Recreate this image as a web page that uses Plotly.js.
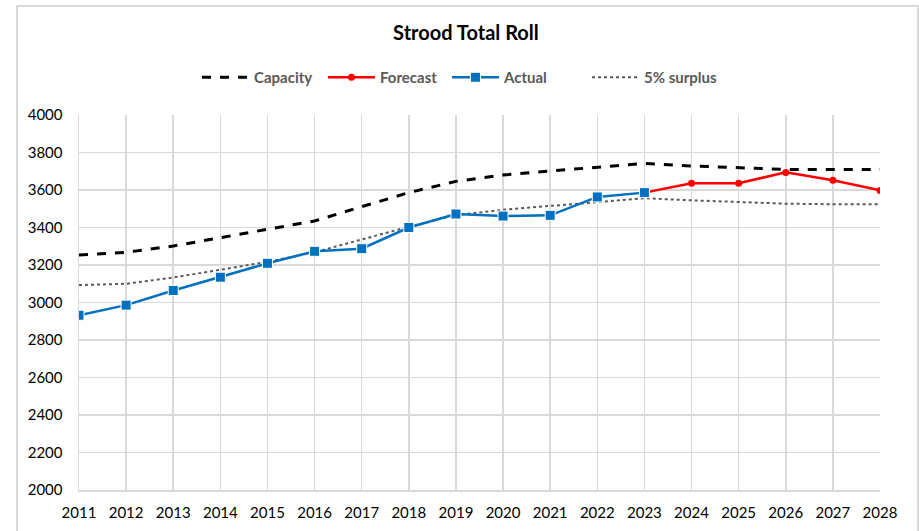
<!DOCTYPE html>
<html>
<head>
<meta charset="utf-8">
<script src="https://cdn.plot.ly/plotly-3.0.1.min.js"></script>
<style>
html,body{margin:0;padding:0;background:#fff;}
#wrap{position:relative;width:919px;height:531px;overflow:hidden;}
#chart{position:absolute;left:0;top:0;width:919px;height:531px;}
#frame{position:absolute;left:16px;top:5px;width:899px;height:560px;border:2px solid #d9d9d9;pointer-events:none;}
</style>
</head>
<body>
<div id="wrap"><div id="chart"></div><div id="frame"></div></div>
<script>
const years = [2011,2012,2013,2014,2015,2016,2017,2018,2019,2020,2021,2022,2023,2024,2025,2026,2027,2028];
const capacity = [3253,3268,3301,3346,3390,3435,3511,3586,3646,3680,3701,3721,3742,3728,3719,3710,3710,3710];
const surplus = [3093,3100,3133,3176,3217,3268,3336,3404,3466,3494,3515,3536,3556,3545,3536,3527,3524,3524];
const actualYears = [2011,2012,2013,2014,2015,2016,2017,2018,2019,2020,2021,2022,2023];
const actual = [2932,2986,3064,3135,3209,3273,3287,3400,3472,3461,3465,3563,3586];
const forecastYears = [2023,2024,2025,2026,2027,2028];
const forecast = [3586,3636,3636,3694,3652,3598];

const FONT = 'Lato, "Open Sans", sans-serif';

const traces = [
  {x: years, y: surplus, name: '5% surplus', mode: 'lines', legend: 'legend4',
   line: {color: '#595959', width: 2, dash: 'dot'}},
  {x: years, y: capacity, name: 'Capacity', mode: 'lines', legend: 'legend',
   line: {color: '#000000', width: 3, dash: 'dash'}},
  {x: forecastYears, y: forecast, name: 'Forecast', mode: 'lines+markers', legend: 'legend2',
   line: {color: '#ff0000', width: 2.5}, marker: {symbol: 'circle', size: 7, color: '#ff0000'}},
  {x: actualYears, y: actual, name: 'Actual', mode: 'lines+markers', legend: 'legend3',
   line: {color: '#0070c0', width: 2.5},
   marker: {symbol: 'square', size: 10, color: '#0070c0', line: {color: '#ffffff', width: 1}}}
];

function leg(x) {
  return {orientation: 'h', x: x, xanchor: 'left', y: 1.1, yanchor: 'middle',
          font: {family: FONT, size: 15, color: '#595959', weight: 'bold'},
          itemwidth: 47, bgcolor: 'rgba(0,0,0,0)'};
}

const layout = {
  width: 919, height: 531,
  margin: {l: 79, r: 39, t: 115, b: 41},
  paper_bgcolor: '#ffffff', plot_bgcolor: '#ffffff',
  title: {text: '<b>Strood Total Roll</b>', x: 0.507, xanchor: 'center', y: 0.937, yanchor: 'middle',
          font: {family: FONT, size: 20, color: '#000000'}},
  showlegend: true,
  legend: leg(0.1473),
  legend2: leg(0.3046),
  legend3: leg(0.4594),
  legend4: leg(0.6342),
  xaxis: {type: 'linear', range: [2011, 2028], dtick: 1, tick0: 2011, tickformat: 'd',
          showgrid: true, gridcolor: '#d9d9d9', gridwidth: 1.5, zeroline: false,
          showline: true, linecolor: '#d9d9d9', linewidth: 1.5, ticks: '',
          ticklabelstandoff: 8,
          tickfont: {family: FONT, size: 15, color: '#000000'}},
  yaxis: {range: [2000, 4000], dtick: 200, tick0: 2000,
          showgrid: true, gridcolor: '#d9d9d9', gridwidth: 1.5, zeroline: false,
          showline: true, linecolor: '#d9d9d9', linewidth: 1.5, ticks: '',
          ticklabelstandoff: 12,
          tickfont: {family: FONT, size: 15, color: '#000000'}},
  font: {family: FONT}
};

Plotly.newPlot('chart', traces, layout, {displayModeBar: false, staticPlot: true});
</script>
</body>
</html>
